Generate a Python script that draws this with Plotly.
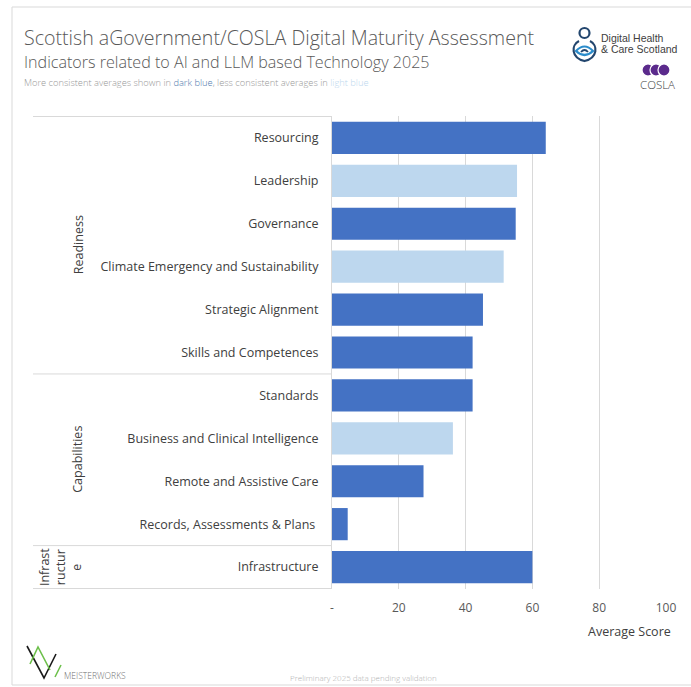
import plotly.graph_objects as go

# ---- data -------------------------------------------------------------
indicators = [
    "Resourcing", "Leadership", "Governance",
    "Climate Emergency and Sustainability", "Strategic Alignment",
    "Skills and Competences", "Standards",
    "Business and Clinical Intelligence", "Remote and Assistive Care",
    "Records, Assessments & Plans\u00a0", "Infrastructure",
]
average_score = [64.0, 55.4, 55.0, 51.4, 45.2, 42.1, 42.1, 36.2, 27.4, 4.7, 60.0]
consistent = [True, False, True, False, True, True, True, False, True, True, True]

groups = ["Readiness", "Capabilities", "Infrast<br>ructur<br>e"]
group_sizes = [6, 4, 1]

x_tick_vals = [0, 20, 40, 60, 80, 100]
x_tick_text = ["-", "20", "40", "60", "80", "100"]

DARK_BLUE = "#4472C4"
LIGHT_BLUE = "#BDD7EE"
FONT = "Open Sans"

# ---- layout geometry (pixels) ----------------------------------------
FIG_W, FIG_H = 691, 687
L, T, R, B = 332, 116, 666, 589
W, H = R - L, B - T


def px_x(px):
    return (px - L) / W


def px_y(py):
    return 1 - (py - T) / H


fig = go.Figure()
fig.add_trace(go.Bar(
    x=average_score,
    y=indicators,
    orientation="h",
    marker=dict(color=[DARK_BLUE if c else LIGHT_BLUE for c in consistent],
                line=dict(width=0)),
    width=0.75,
    hoverinfo="x+y",
))

shapes = []
annotations = []

# outer frame
shapes.append(dict(type="rect", xref="paper", yref="paper",
                   x0=px_x(12), x1=px_x(720), y0=px_y(685), y1=px_y(7),
                   line=dict(color="#d9d9d9", width=1), layer="below"))

# group separators on the category axis
boundary = -0.5
bounds = [boundary]
for n in group_sizes:
    boundary += n
    bounds.append(boundary)
for b in bounds:
    shapes.append(dict(type="line", xref="paper", yref="y",
                       x0=px_x(33), x1=0, y0=b, y1=b,
                       line=dict(color="#d9d9d9", width=1)))

# group labels
gx = [px_x(78), px_x(78), px_x(61)]
for i, g in enumerate(groups):
    centre = (bounds[i] + bounds[i + 1]) / 2
    annotations.append(dict(
        text=g, xref="paper", yref="y", x=gx[i], y=centre,
        textangle=-90, showarrow=False, align="center",
        xanchor="center", yanchor="middle",
        font=dict(family=FONT, size=12.5, color="#404040")))

# titles
annotations.append(dict(
    text="Scottish aGovernment/COSLA Digital Maturity Assessment",
    xref="paper", yref="paper", x=px_x(22), y=px_y(38),
    xanchor="left", yanchor="middle", showarrow=False,
    font=dict(family=FONT, size=19.6, color="#595959", weight=300)))
annotations.append(dict(
    text="Indicators related to AI and LLM based Technology 2025",
    xref="paper", yref="paper", x=px_x(22), y=px_y(62),
    xanchor="left", yanchor="middle", showarrow=False,
    font=dict(family=FONT, size=16.1, color="#595959", weight=300)))
annotations.append(dict(
    text=("More consistent averages shown in "
          f"<span style='color:#4f79ad'>dark blue</span>, "
          "less consistent averages in "
          f"<span style='color:{LIGHT_BLUE}'>light blue</span>"),
    xref="paper", yref="paper", x=px_x(22), y=px_y(82),
    xanchor="left", yanchor="middle", showarrow=False,
    font=dict(family=FONT, size=9.3, color="#999999", weight=300)))

# x-axis caption
annotations.append(dict(
    text="Average Score", xref="paper", yref="paper",
    x=px_x(673), y=px_y(631), xanchor="right", yanchor="middle",
    showarrow=False, font=dict(family=FONT, size=12.5, color="#404040")))

# footer
annotations.append(dict(
    text="Preliminary 2025 data pending validation", xref="paper", yref="paper",
    x=px_x(363), y=px_y(677), xanchor="center", yanchor="middle",
    showarrow=False, font=dict(family=FONT, size=8, color="#b0b0b0", weight=300)))

# Digital Health & Care Scotland mark
shapes.append(dict(type="circle", xref="paper", yref="paper",
                   x0=px_x(579.5), x1=px_x(589.5), y0=px_y(38), y1=px_y(28),
                   line=dict(color="#23466e", width=2.2)))
shapes.append(dict(type="path", xref="paper", yref="paper",
                   path=(f"M {px_x(579)},{px_y(41)} "
                         f"C {px_x(571)},{px_y(45)} {px_x(571)},{px_y(58)} {px_x(584.5)},{px_y(61)} "
                         f"C {px_x(598)},{px_y(58)} {px_x(598)},{px_y(45)} {px_x(590)},{px_y(41)}"),
                   line=dict(color="#23466e", width=2.2)))
shapes.append(dict(type="path", xref="paper", yref="paper",
                   path=(f"M {px_x(576)},{px_y(51)} "
                         f"Q {px_x(584.5)},{px_y(42)} {px_x(593)},{px_y(51)} "
                         f"Q {px_x(584.5)},{px_y(59)} {px_x(576)},{px_y(51)} Z"),
                   line=dict(color="#2b8ccb", width=2.2)))
shapes.append(dict(type="path", xref="paper", yref="paper",
                   path=(f"M {px_x(581)},{px_y(52)} "
                         f"Q {px_x(584.5)},{px_y(48)} {px_x(588)},{px_y(52)}"),
                   line=dict(color="#23466e", width=1.8)))
annotations.append(dict(
    text="Digital Health", xref="paper", yref="paper",
    x=px_x(599), y=px_y(38), xanchor="left", yanchor="middle",
    showarrow=False, font=dict(family="Liberation Sans", size=10.5, color="#404040")))
annotations.append(dict(
    text="& Care Scotland", xref="paper", yref="paper",
    x=px_x(599), y=px_y(49), xanchor="left", yanchor="middle",
    showarrow=False, font=dict(family="Liberation Sans", size=10.5, color="#404040")))

# COSLA mark
for cx in (648, 656, 664):
    shapes.append(dict(type="circle", xref="paper", yref="paper",
                       x0=px_x(cx - 6), x1=px_x(cx + 6), y0=px_y(76), y1=px_y(64),
                       fillcolor="#5b2a8c", line=dict(color="white", width=1.2)))
annotations.append(dict(
    text="COSLA", xref="paper", yref="paper", x=px_x(657), y=px_y(85),
    xanchor="center", yanchor="middle", showarrow=False,
    font=dict(family=FONT, size=11.5, color="#404040", weight=300)))

# Meisterworks mark
shapes.append(dict(type="path", xref="paper", yref="paper",
                   path=(f"M {px_x(27)},{px_y(646)} L {px_x(44)},{px_y(678)} "
                         f"L {px_x(56)},{px_y(654)}"),
                   line=dict(color="#1a1a1a", width=1.6)))
shapes.append(dict(type="path", xref="paper", yref="paper",
                   path=(f"M {px_x(30)},{px_y(664)} L {px_x(38)},{px_y(647)} "
                         f"L {px_x(50)},{px_y(670)}"),
                   line=dict(color="#6cbf4a", width=1.6)))
shapes.append(dict(type="path", xref="paper", yref="paper",
                   path=f"M {px_x(55)},{px_y(677)} L {px_x(61)},{px_y(665)}",
                   line=dict(color="#6cbf4a", width=1.6)))
annotations.append(dict(
    text="MEISTERWORKS", xref="paper", yref="paper", x=px_x(62), y=px_y(675),
    xanchor="left", yanchor="middle", showarrow=False,
    font=dict(family=FONT, size=8.5, color="#707070", weight=300)))

fig.update_layout(
    width=FIG_W, height=FIG_H,
    margin=dict(l=L, r=FIG_W - R, t=T, b=FIG_H - B, pad=0),
    paper_bgcolor="white", plot_bgcolor="white",
    showlegend=False, bargap=0.25,
    font=dict(family=FONT, color="#404040"),
    shapes=shapes, annotations=annotations,
    xaxis=dict(range=[0, 100], tickvals=x_tick_vals, ticktext=x_tick_text,
               showgrid=True, gridcolor="#d9d9d9", gridwidth=1,
               zeroline=False, showline=False, ticks="",
               ticklabelstandoff=10,
               tickfont=dict(family=FONT, size=12, color="#595959"),
               fixedrange=True),
    yaxis=dict(type="category", categoryorder="array", categoryarray=indicators,
               autorange="reversed", showgrid=False, zeroline=False,
               showline=True, linecolor="#d9d9d9", linewidth=1,
               ticks="", ticklabelstandoff=10,
               tickfont=dict(family=FONT, size=12.5, color="#404040"),
               fixedrange=True),
)

fig.write_html("out.html")
